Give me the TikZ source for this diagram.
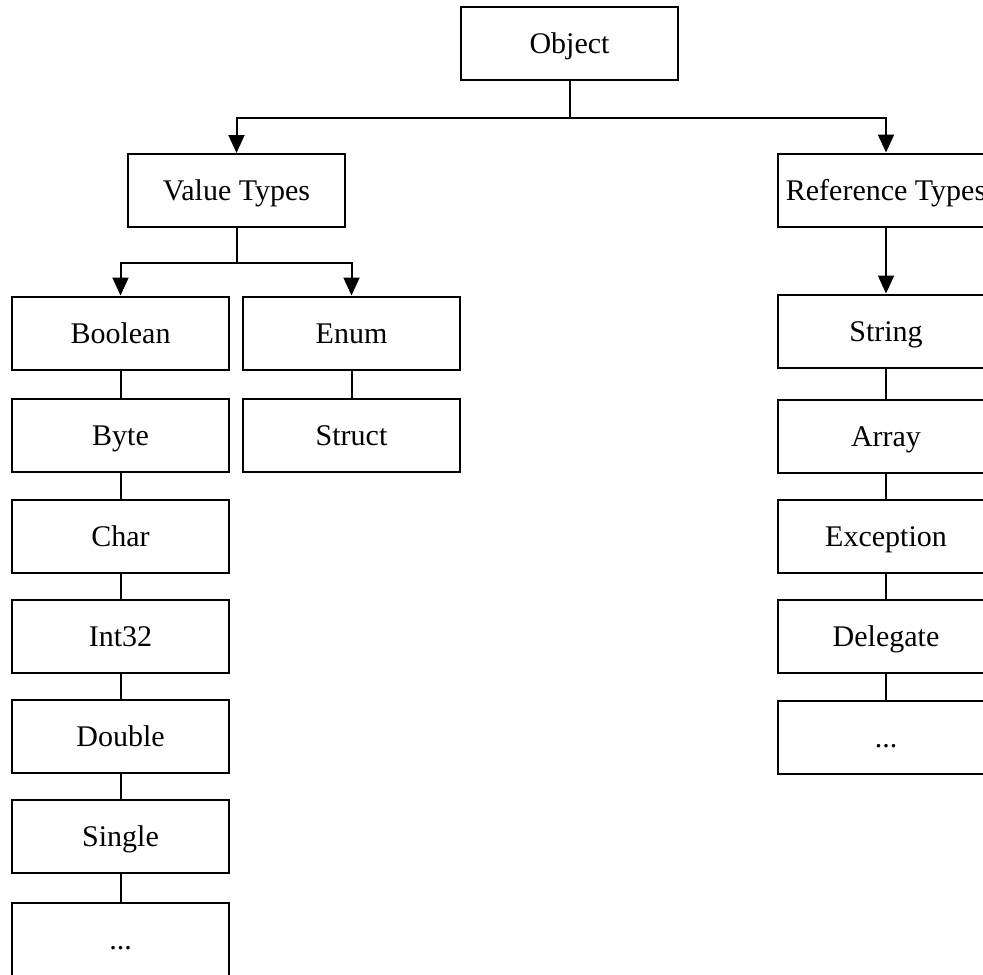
\documentclass[tikz,border=0pt]{standalone}
\usepackage{fontspec}
\setmainfont{Liberation Serif}
\usetikzlibrary{arrows.meta}

\begin{document}
\begin{tikzpicture}
[x=0.5pt,y=-0.5pt,
  typeBox/.style={shape=rectangle,draw,line width=1pt,minimum width=108.5pt,minimum height=36.5pt,inner sep=0pt,text height=13pt,text depth=3pt,font=\fontsize{15}{18}\selectfont},%
  linkLine/.style={-,line width=1pt},%
  arrowLine/.style={-{Triangle[length=9pt,width=8pt]},line width=1pt}]
\clip (0,0) rectangle (983,974);
%% boxes
\foreach \nodename/\nodetext/\x/\y in {object/Object/569.5/43.5,
  valueTypes/Value Types/236.5/190.5, refTypes/Reference Types/886/190,
  boolean/Boolean/120.5/333, byte/Byte/120.5/435.5, char/Char/120.5/536,
  int32/Int32/120.5/636, double/Double/120.5/736, single/Single/120.5/836,
  moreValue/{.\kern0pt.\kern0pt.}/120.5/939,
  enum/Enum/351.5/333, struct/Struct/351.5/435.5,
  string/String/886/331, array/Array/886/436, exception/Exception/886/536,
  delegate/Delegate/886/636, moreRef/{.\kern0pt.\kern0pt.}/886/737}
{
  \node (\nodename) at (\x,\y) [typeBox] {\nodetext};
}
%% arrows
\draw[arrowLine] (object.south) -- ++(0,-18.5pt) -| (valueTypes.north);
\draw[arrowLine] (object.south) -- ++(0,-18.5pt) -| (refTypes.north);
\draw[arrowLine] (valueTypes.south) -- ++(0,-17.5pt) -| (boolean.north);
\draw[arrowLine] (valueTypes.south) -- ++(0,-17.5pt) -| (enum.north);
\draw[arrowLine] (refTypes) -- (string);
%% plain links
\path
\foreach \startnode/\endnode in {boolean/byte, byte/char, char/int32, int32/double,
  double/single, single/moreValue, enum/struct, string/array, array/exception,
  exception/delegate, delegate/moreRef} {
  (\startnode) edge[linkLine] (\endnode)
};
\end{tikzpicture}
\end{document}
